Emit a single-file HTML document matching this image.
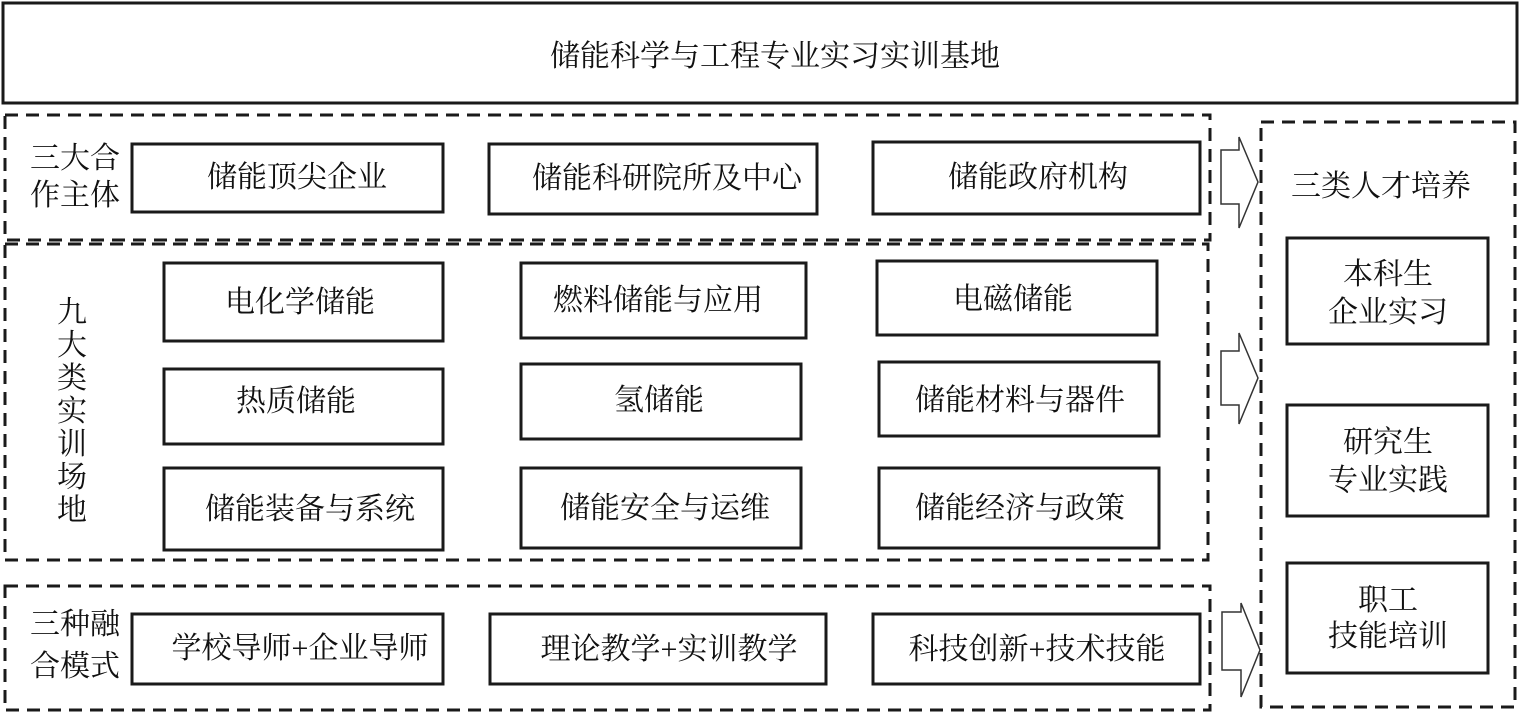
<!DOCTYPE html>
<html><head><meta charset="utf-8"><style>
html,body{margin:0;padding:0;background:#fff;}
svg text{font-family:"Liberation Serif","Noto Serif CJK SC",serif;fill:#111;}
</style></head><body>
<svg width="1521" height="713" viewBox="0 0 1521 713" xmlns="http://www.w3.org/2000/svg">
<g fill="none" stroke="#1a1a1a">
<rect x="3" y="3" width="1514" height="100" stroke-width="3"/>
<g stroke-width="3" stroke-dasharray="13,8">
<rect x="5" y="115" width="1205" height="125"/>
<rect x="5" y="244" width="1203" height="316"/>
<rect x="5" y="586" width="1205" height="124"/>
<rect x="1261" y="122" width="254" height="585"/>
</g>
<g stroke-width="3">
<rect x="132" y="144" width="311" height="68"/>
<rect x="489" y="144" width="328" height="70"/>
<rect x="873" y="142" width="327" height="72"/>
<rect x="164" y="263" width="279" height="78"/>
<rect x="521" y="263" width="285" height="75"/>
<rect x="877" y="261" width="280" height="74"/>
<rect x="164" y="369" width="279" height="75"/>
<rect x="521" y="364" width="280" height="75"/>
<rect x="879" y="362" width="280" height="74"/>
<rect x="164" y="468" width="279" height="82"/>
<rect x="521" y="468" width="280" height="80"/>
<rect x="879" y="468" width="280" height="80"/>
<rect x="132" y="614" width="311" height="70"/>
<rect x="490" y="614" width="336" height="70"/>
<rect x="873" y="614" width="327" height="70"/>
<rect x="1287" y="238" width="201" height="106"/>
<rect x="1287" y="405" width="201" height="111"/>
<rect x="1287" y="563" width="201" height="110"/>
</g>
<g stroke-width="1.5" stroke="#333">
<polygon points="1221,150 1239,150 1239,137 1258,182 1239,228 1239,204 1221,204"/>
<polygon points="1221,351 1239,351 1239,333 1258,378 1239,424 1239,405 1221,405"/>
<polygon points="1222,612 1241,612 1241,603 1260,650 1241,697 1241,670 1222,670"/>
</g>
</g>
<g font-size="30" text-anchor="middle">
<text x="775" y="66">储能科学与工程专业实习实训基地</text>
<text x="297" y="187">储能顶尖企业</text>
<text x="667" y="188">储能科研院所及中心</text>
<text x="1038" y="187">储能政府机构</text>
<text x="300" y="312">电化学储能</text>
<text x="658" y="310">燃料储能与应用</text>
<text x="1013" y="309">电磁储能</text>
<text x="296" y="411">热质储能</text>
<text x="659" y="410">氢储能</text>
<text x="1020" y="410">储能材料与器件</text>
<text x="310" y="519">储能装备与系统</text>
<text x="665" y="518">储能安全与运维</text>
<text x="1020" y="518">储能经济与政策</text>
<text x="300" y="658">学校导师+企业导师</text>
<text x="669" y="659">理论教学+实训教学</text>
<text x="1037" y="659">科技创新+技术技能</text>
<text x="1381" y="196">三类人才培养</text>
<text x="1388" y="284">本科生</text>
<text x="1388" y="322">企业实习</text>
<text x="1388" y="452">研究生</text>
<text x="1388" y="490">专业实践</text>
<text x="1388" y="610">职工</text>
<text x="1388" y="646">技能培训</text>
<text x="75" y="168">三大合</text>
<text x="75" y="205">作主体</text>
<text x="75" y="634">三种融</text>
<text x="75" y="676">合模式</text>
<text x="72" y="322">九</text>
<text x="72" y="355">大</text>
<text x="72" y="388">类</text>
<text x="72" y="421">实</text>
<text x="72" y="454">训</text>
<text x="72" y="487">场</text>
<text x="72" y="520">地</text>
</g>
</svg>
</body></html>
